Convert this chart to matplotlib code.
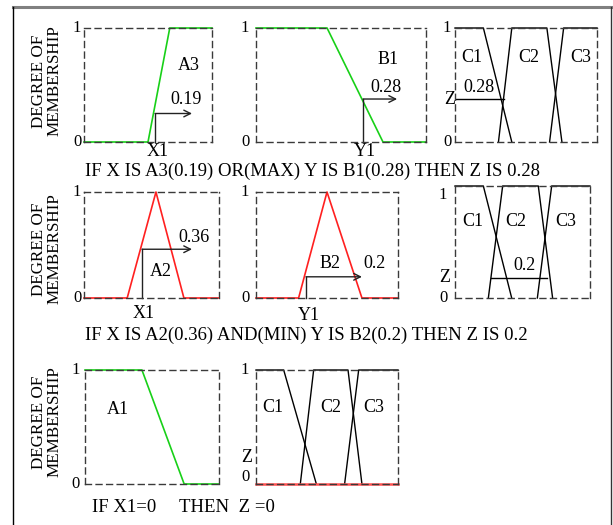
import numpy as np
import matplotlib
matplotlib.use('Agg')
import matplotlib.pyplot as plt
from matplotlib.lines import Line2D

plt.rcParams['font.family'] = ['Liberation Serif', 'DejaVu Serif']

W, H = 613, 525

# membership functions (x normalised to each panel, y = degree of membership)
a3_x = [0, 0.50, 0.67, 1];  a3_y = [0, 0, 1, 1]
b1_x = [0, 0.418, 0.747, 1]; b1_y = [1, 1, 0, 0]
a2_x = [0, 0.32, 0.533, 0.74, 1]; a2_y = [0, 0, 1, 0, 0]
b2_x = [0, 0.30, 0.50, 0.746, 1]; b2_y = [0, 0, 1, 0, 0]
a1_x = [0, 0.425, 0.74, 1];  a1_y = [1, 1, 0, 0]

c_row1 = [([0, 0.20, 0.40], [1, 1, 0]),
          ([0.306, 0.40, 0.647, 0.753], [0, 1, 1, 0]),
          ([0.666, 0.765, 1], [0, 1, 1])]
c_row2 = [([0, 0.21, 0.42], [1, 1, 0]),
          ([0.247, 0.353, 0.617, 0.723], [0, 1, 1, 0]),
          ([0.61, 0.716, 1], [0, 1, 1])]
c_row3 = [([0, 0.195, 0.425], [1, 1, 0]),
          ([0.312, 0.406, 0.648, 0.746], [0, 1, 1, 0]),
          ([0.624, 0.723, 1], [0, 1, 1])]

# inputs: (x position, membership) for the arrows
x1_row1 = (0.555, 0.25); y1_row1 = (0.63, 0.377)
x1_row2 = (0.43, 0.46);  y1_row2 = (0.352, 0.20)
arrow_end = [0.844, 0.83, 0.80, 0.746]

# output cut levels
z_row1 = (0.375, 0.0, 0.346)
z_row2 = (0.18, 0.267, 0.679)
z_row3 = (0.0, 0.0, 1.0)

rules = ["IF X IS A3(0.19) OR(MAX) Y IS B1(0.28) THEN Z IS 0.28",
         "IF X IS A2(0.36) AND(MIN) Y IS B2(0.2) THEN Z IS 0.2"]

GREEN = '#18d018'
RED = '#ff2020'
FS = 13
FS_RULE = 13.5
FS_TICK = 12

fig = plt.figure(figsize=(W / 100, H / 100), dpi=100)


def panel(l, t, r, b):
    ax = fig.add_axes([l / W, 1 - b / H, (r - l) / W, (b - t) / H])
    ax.set_xlim(0, 1)
    ax.set_ylim(0, 1)
    ax.set_xticks([])
    ax.set_yticks([])
    ax.patch.set_alpha(0)
    for s in ax.spines.values():
        s.set_linestyle((0, (4.3, 3.3)))
        s.set_color('#3a3a3a')
        s.set_linewidth(1.0)
    return ax


def txt(x, y, s, **kw):
    kw.setdefault('ha', 'center')
    kw.setdefault('va', 'center')
    kw.setdefault('fontsize', FS)
    fig.text(x / W, 1 - y / H, s, **kw)


def arrow(ax, x, y, xe):
    ax.plot([x, x], [0, y], color='#222222', lw=1.0, clip_on=False)
    ax.annotate('', xy=(xe, y), xytext=(x, y),
                arrowprops=dict(arrowstyle='->', color='#222222', lw=1.0,
                                shrinkA=0, shrinkB=0, mutation_scale=12))


def cset(ax, cs, z):
    for xs, ys in cs:
        ax.plot(xs, ys, color='black', lw=1.0, clip_on=False)
    return z


# frame
fig.add_artist(Line2D([13 / W, 611 / W], [1 - 7 / H, 1 - 7 / H], color='#808080', lw=2.2))
fig.add_artist(Line2D([13 / W, 13 / W], [1 - 7 / H, 0], color='black', lw=1.0))
fig.add_artist(Line2D([611 / W, 611 / W], [1 - 7 / H, 0], color='#333333', lw=1.0))

# ---- row 1 ----
ax = panel(84, 28, 212, 142)
ax.plot(a3_x, a3_y, color=GREEN, lw=1.2, clip_on=False)
arrow(ax, x1_row1[0], x1_row1[1], arrow_end[0])
ax = panel(256, 28, 426, 142)
ax.plot(b1_x, b1_y, color=GREEN, lw=1.2, clip_on=False)
arrow(ax, y1_row1[0], y1_row1[1], arrow_end[1])
ax = panel(455, 28, 597, 142)
lev, z0, z1 = cset(ax, c_row1, z_row1)
ax.plot([z0, z1], [lev, lev], color='black', lw=1.0)

# ---- row 2 ----
ax = panel(84, 192, 219, 298)
ax.plot(a2_x, a2_y, color=RED, lw=1.2, clip_on=False)
arrow(ax, x1_row2[0], x1_row2[1], arrow_end[2])
ax = panel(256, 192, 398, 298)
ax.plot(b2_x, b2_y, color=RED, lw=1.2, clip_on=False)
arrow(ax, y1_row2[0], y1_row2[1], arrow_end[3])
ax = panel(455, 186, 590, 298)
lev, z0, z1 = cset(ax, c_row2, z_row2)
ax.plot([z0, z1], [lev, lev], color='black', lw=1.0)

# ---- row 3 ----
ax = panel(85, 370, 219, 484)
ax.plot(a1_x, a1_y, color=GREEN, lw=1.2, clip_on=False)
ax = panel(256, 370, 398, 484)
lev, z0, z1 = cset(ax, c_row3, z_row3)
ax.plot([z0, z1], [lev, lev], color='#ff5050', lw=1.8, clip_on=False)

# ---- text ----
for yc in (81, 249, 422):
    txt(47, yc, "DEGREE OF\nMEMBERSHIP", rotation=90, linespacing=1.0, fontsize=12.3)

for x, y0, y1 in [(77, 142, 28), (245, 142, 28), (77, 298, 192), (245, 298, 192),
                  (76, 484, 370)]:
    txt(x, y0, "0", fontsize=FS_TICK)
    txt(x, y1, "1", fontsize=FS_TICK)
txt(447, 142, "0", fontsize=FS_TICK); txt(447, 28, "1", fontsize=FS_TICK)
txt(443, 298, "0", fontsize=FS_TICK); txt(443, 195, "1", fontsize=FS_TICK)
txt(245, 477, "0", fontsize=FS_TICK); txt(245, 370, "1", fontsize=FS_TICK)

txt(189, 66, "A3"); txt(186, 100, "0.19"); txt(158, 152, "X1")
txt(388, 59, "B1"); txt(386, 88, "0.28"); txt(365, 152, "Y1")
txt(472, 58, "C1"); txt(529, 58, "C2"); txt(581, 58, "C3")
txt(479, 88, "0.28"); txt(450, 99, "Z")
txt(85, 171, rules[0], ha='left', fontsize=FS_RULE)

txt(194, 237, "0.36"); txt(161, 272, "A2"); txt(144, 314, "X1")
txt(330, 264, "B2"); txt(374, 264, "0.2"); txt(309, 315, "Y1")
txt(473, 222, "C1"); txt(516, 222, "C2"); txt(566, 222, "C3")
txt(524, 265, "0.2"); txt(445, 278, "Z")
txt(85, 335, rules[1], ha='left', fontsize=FS_RULE)

txt(118, 409, "A1")
txt(273, 408, "C1"); txt(331, 408, "C2"); txt(374, 408, "C3")
txt(247, 457, "Z")
txt(92, 507, "IF X1=0", ha='left', fontsize=FS_RULE)
txt(179, 507, "THEN  Z =0", ha='left', fontsize=FS_RULE)

fig.savefig('out.png', dpi=100)
